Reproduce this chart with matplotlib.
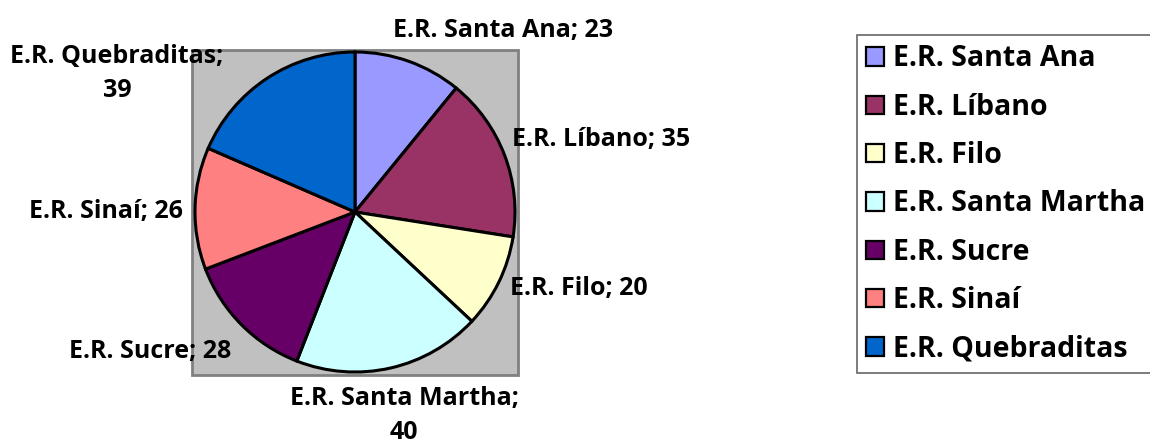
import matplotlib
matplotlib.use("Agg")
import matplotlib.pyplot as plt
from matplotlib.patches import Rectangle

plt.rcParams['font.family'] = ['Open Sans', 'DejaVu Sans']
plt.rcParams['font.weight'] = 'bold'

names = ['E.R. Santa Ana', 'E.R. Líbano', 'E.R. Filo', 'E.R. Santa Martha',
         'E.R. Sucre', 'E.R. Sinaí', 'E.R. Quebraditas']
values = [23, 35, 20, 40, 28, 26, 39]
colors = ['#9999FF', '#993366', '#FFFFCC', '#CCFFFF', '#660066', '#FF8080', '#0066CC']

# label centre x and first baseline y (pixels from top), and whether it wraps
label_pos = [(503, 37), (601, 146), (579, 295), (404, 405), (150, 358), (106, 218), (117, 63)]
label_wrap = [False, False, False, True, False, False, True]

W, H = 1150, 445
fig = plt.figure(figsize=(W / 100, H / 100), dpi=100)
ax = fig.add_axes([0, 0, 1, 1])

# gray plot area
ax.add_patch(Rectangle((192, H - 375), 326, 325, facecolor='#C0C0C0',
                       edgecolor='#808080', lw=2, zorder=0))

wedges, _ = ax.pie(values, colors=colors, startangle=90, counterclock=False,
                   center=(355, H - 212), radius=160, frame=True,
                   wedgeprops=dict(edgecolor='black', linewidth=2.2))
ax.set_xlim(0, W)
ax.set_ylim(0, H)
ax.set_aspect('equal')
ax.axis('off')

for name, v, (x, y), wrap in zip(names, values, label_pos, label_wrap):
    lines = [f'{name};', f'{v}'] if wrap else [f'{name}; {v}']
    for i, line in enumerate(lines):
        ax.text(x, H - y - 34 * i, line, ha='center', va='baseline',
                fontsize=18, fontweight='bold')

leg = fig.legend(wedges, names, loc='upper left',
                 bbox_to_anchor=(857 / W, 1 - 35 / H), frameon=True,
                 fancybox=False, fontsize=20.5, handlelength=0.62,
                 handleheight=0.62, handletextpad=0.3, labelspacing=0.68,
                 borderpad=0.33, borderaxespad=0)
leg.get_frame().set_edgecolor('#404040')
leg.get_frame().set_linewidth(1.2)
for h in leg.legend_handles:
    h.set_linewidth(1.6)

fig.savefig('out.png', dpi=100)
